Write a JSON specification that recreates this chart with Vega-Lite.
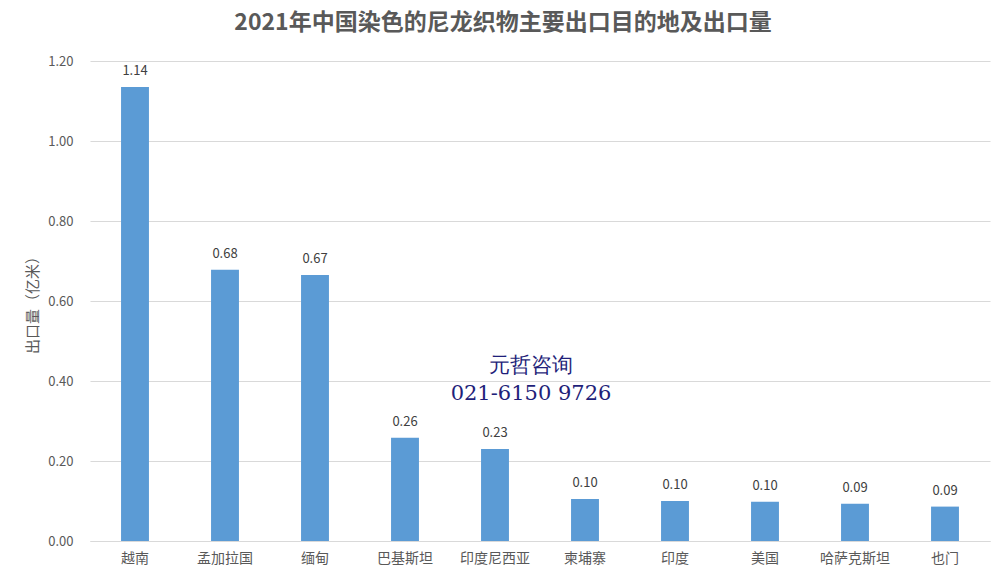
{
  "$schema": "https://vega.github.io/schema/vega-lite/v6.json",
  "width": 900,
  "height": 480,
  "autosize": {"type": "none"},
  "padding": {"left": 90, "top": 61, "right": 16, "bottom": 38},
  "background": "white",
  "title": {
    "text": "2021年中国染色的尼龙织物主要出口目的地及出口量",
    "font": "Noto Sans CJK SC",
    "fontSize": 23,
    "fontWeight": "bold",
    "color": "#595959",
    "anchor": "middle",
    "dx": -37,
    "offset": 20
  },
  "config": {
    "view": {"stroke": null},
    "axis": {"labelFont": "Noto Sans CJK SC", "titleFont": "Noto Sans CJK SC", "labelColor": "#595959", "titleColor": "#595959"}
  },
  "datasets": {
    "bars": [
      {"country": "越南", "value": 1.135, "label": "1.14"},
      {"country": "孟加拉国", "value": 0.678, "label": "0.68"},
      {"country": "缅甸", "value": 0.665, "label": "0.67"},
      {"country": "巴基斯坦", "value": 0.258, "label": "0.26"},
      {"country": "印度尼西亚", "value": 0.23, "label": "0.23"},
      {"country": "柬埔寨", "value": 0.105, "label": "0.10"},
      {"country": "印度", "value": 0.1, "label": "0.10"},
      {"country": "美国", "value": 0.098, "label": "0.10"},
      {"country": "哈萨克斯坦", "value": 0.093, "label": "0.09"},
      {"country": "也门", "value": 0.086, "label": "0.09"}
    ],
    "mark": [
      {"country": "印度尼西亚", "value": 0.4375, "text": "元哲咨询"},
      {"country": "印度尼西亚", "value": 0.367, "text": "021-6150 9726"}
    ]
  },
  "encoding": {
    "x": {
      "field": "country",
      "type": "nominal",
      "sort": null,
      "scale": {"paddingInner": 0.69, "paddingOuter": 0.345},
      "axis": {
        "title": null,
        "labelAngle": 0,
        "labelFontSize": 14,
        "labelPadding": 10,
        "ticks": false,
        "domainColor": "#d9d9d9",
        "grid": false
      }
    },
    "y": {
      "field": "value",
      "type": "quantitative",
      "scale": {"domain": [0, 1.2]},
      "axis": {
        "title": "出口量（亿米）",
        "titleFontSize": 15,
        "titleFontWeight": "normal",
        "titleX": -58,
        "titleY": 240,
        "titleAngle": -90,
        "titleAlign": "center",
        "titleBaseline": "middle",
        "values": [0, 0.2, 0.4, 0.6, 0.8, 1.0, 1.2],
        "format": ".2f",
        "labelFontSize": 13,
        "labelPadding": 17,
        "ticks": false,
        "domain": false,
        "gridColor": "#d9d9d9"
      }
    }
  },
  "layer": [
    {
      "data": {"name": "bars"},
      "mark": {"type": "bar", "color": "#5B9BD5"}
    },
    {
      "data": {"name": "bars"},
      "mark": {"type": "text", "baseline": "bottom", "dy": -9, "font": "Noto Sans CJK SC", "fontSize": 13, "color": "#404040"},
      "encoding": {"text": {"field": "label"}}
    },
    {
      "data": {"name": "mark"},
      "mark": {"type": "text", "dx": 36, "baseline": "middle", "font": "DejaVu Serif", "fontSize": 21, "color": "#1F1F7A"},
      "encoding": {"text": {"field": "text"}}
    }
  ]
}
